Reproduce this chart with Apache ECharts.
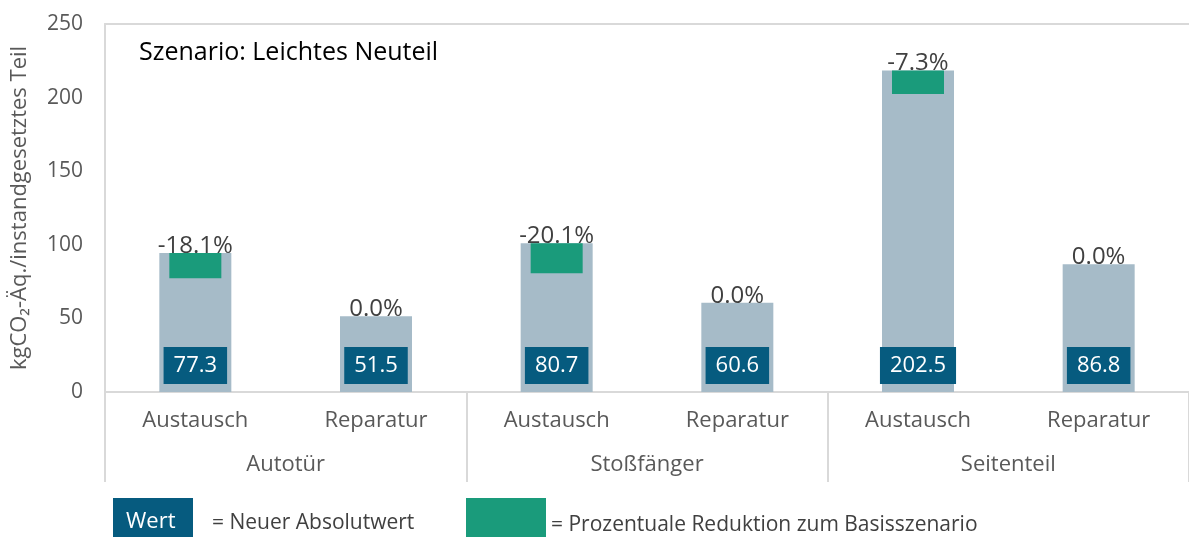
<!DOCTYPE html>
<html>
<head>
<meta charset="utf-8">
<script src="https://cdn.jsdelivr.net/npm/echarts@6/dist/echarts.min.js"></script>
<style>
  html, body { margin: 0; padding: 0; background: #fff; }
  #chart { width: 1189px; height: 537px; }
</style>
</head>
<body>
<div id="chart"></div>
<script>
// values
const variants = ["Austausch", "Reparatur", "Austausch", "Reparatur", "Austausch", "Reparatur"];
const parts = ["Autotür", "Stoßfänger", "Seitenteil"];
const newValues = [77.3, 51.5, 80.7, 60.6, 202.5, 86.8];
const pctChange = [-18.1, 0.0, -20.1, 0.0, -7.3, 0.0];
const yTicks = [0, 50, 100, 150, 200, 250];

// old (base scenario) value from new value and percent change
const baseValues = newValues.map((v, i) => +(v / (1 + pctChange[i] / 100)).toFixed(1));
const reduction = baseValues.map((b, i) => +(b - newValues[i]).toFixed(1));

const FONT = "Open Sans";
const GREY_TXT = "#595959";
const DARK = "#065b7f";
const GREEN = "#1a9b7b";
const BAR = "#a6bbc8";
const LINE = "#d9d9d9";

const chartDom = document.getElementById("chart");
const chart = echarts.init(chartDom);

const option = {
  animation: false,
  textStyle: { fontFamily: FONT },
  title: {
    text: "Szenario: Leichtes Neuteil",
    left: 134,
    top: 35,
    textStyle: { fontFamily: FONT, fontSize: 25, fontWeight: "normal", color: "#000" },
  },
  grid: { left: 105, right: 0, top: 24, bottom: 145, containLabel: false },
  xAxis: [
    {
      type: "category",
      data: variants,
      axisLine: { lineStyle: { color: LINE, width: 2 } },
      axisTick: { show: false },
      axisLabel: { fontFamily: FONT, fontSize: 22, color: GREY_TXT, margin: 18 },
    },
    {
      type: "category",
      data: parts,
      position: "bottom",
      axisLine: { show: false },
      axisTick: { show: true, length: 90, lineStyle: { color: LINE, width: 2 } },
      axisLabel: { fontFamily: FONT, fontSize: 22, color: GREY_TXT, margin: 62 },
    },
    {
      type: "category",
      data: variants,
      position: "top",
      axisLine: { show: true, lineStyle: { color: LINE, width: 2 } },
      axisTick: { show: false },
      axisLabel: { show: false },
    },
  ],
  yAxis: {
    type: "value",
    min: yTicks[0],
    max: yTicks[yTicks.length - 1],
    interval: 50,
    name: "kgCO₂-Äq./instandgesetztes Teil",
    nameLocation: "middle",
    nameGap: 74,
    nameTextStyle: { fontFamily: FONT, fontSize: 22, color: GREY_TXT },
    axisLine: { show: true, lineStyle: { color: LINE, width: 2 } },
    axisTick: { show: false },
    splitLine: { show: false },
    axisLabel: { fontFamily: FONT, fontSize: 21, color: GREY_TXT, margin: 22 },
  },
  series: [
    {
      name: "Basis",
      type: "bar",
      xAxisIndex: 0,
      data: baseValues,
      barWidth: 72,
      itemStyle: { color: BAR },
      silent: true,
      label: {
        show: true,
        position: "top",
        distance: -5,
        fontFamily: FONT,
        fontSize: 24,
        color: "#404040",
        formatter: (p) => pctChange[p.dataIndex].toFixed(1) + "%",
      },
      z: 1,
    },
    {
      name: "Neu",
      type: "bar",
      xAxisIndex: 2,
      stack: "red",
      data: newValues,
      barWidth: 52,
      itemStyle: { color: "transparent" },
      silent: true,
      label: {
        show: true,
        position: "insideBottom",
        distance: 8,
        fontFamily: FONT,
        fontSize: 22,
        color: "#fff",
        backgroundColor: DARK,
        padding: [7, 10, 6, 10],
        lineHeight: 24,
        formatter: (p) => p.value.toFixed(1),
      },
      z: 3,
    },
    {
      name: "Reduktion",
      type: "bar",
      xAxisIndex: 2,
      stack: "red",
      data: reduction,
      barWidth: 52,
      itemStyle: { color: GREEN },
      silent: true,
      z: 2,
    },
  ],
  graphic: [
    {
      type: "rect",
      left: 113,
      top: 498,
      shape: { width: 80, height: 39 },
      style: { fill: DARK },
    },
    {
      type: "text",
      left: 126,
      top: 511,
      style: { text: "Wert", fill: "#fff", font: "22px 'Open Sans'" },
    },
    {
      type: "text",
      left: 212,
      top: 513,
      style: { text: "= Neuer Absolutwert", fill: "#404040", font: "21px 'Open Sans'" },
    },
    {
      type: "rect",
      left: 466,
      top: 498,
      shape: { width: 80, height: 39 },
      style: { fill: GREEN },
    },
    {
      type: "text",
      left: 551,
      top: 515,
      style: { text: "= Prozentuale Reduktion zum Basisszenario", fill: "#404040", font: "21px 'Open Sans'" },
    },
  ],
};

chart.setOption(option);
</script>
</body>
</html>
